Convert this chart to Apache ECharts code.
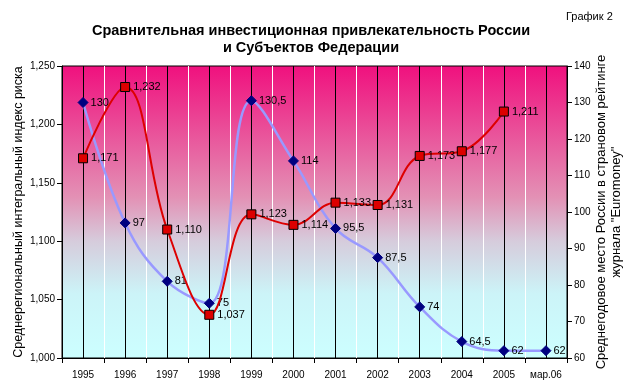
<!DOCTYPE html>
<html><head><meta charset="utf-8">
<script src="https://cdn.jsdelivr.net/npm/echarts@6/dist/echarts.min.js"></script>
<style>html,body{margin:0;padding:0;background:#fff}#c{width:630px;height:389px}</style>
</head><body><div id="c"></div>
<script>
var categories = ['1995','1996','1997','1998','1999','2000','2001','2002','2003','2004','2005','мар.06'];
var riskIndex = [1171, 1232, 1110, 1037, 1123, 1114, 1133, 1131, 1173, 1177, 1211, null];
var euromoneyRank = [130, 97, 81, 75, 130.5, 114, 95.5, 87.5, 74, 64.5, 62, 62];
var leftTicks = {min: 1000, max: 1250, interval: 50};
var rightTicks = {min: 60, max: 140, interval: 10};

var font = 'Arial, "Liberation Sans", sans-serif';
var chart = echarts.init(document.getElementById('c'));
function thousands(v){ var s = String(Math.round(v)); return s.length > 3 ? s.slice(0, s.length-3) + ',' + s.slice(-3) : s; }
function dec(v){ return String(v).replace('.', ','); }
chart.setOption({
  animation: false,
  backgroundColor: '#fff',
  title: [{
    text: 'Сравнительная инвестиционная привлекательность России\nи Субъектов Федерации',
    left: 311, top: 22, textAlign: 'center', padding: 0,
    textStyle: {fontFamily: font, fontSize: 14.5, fontWeight: 'bold', color: '#000', lineHeight: 17}
  }, {
    text: 'График 2', left: 566, top: 11, padding: 0,
    textStyle: {fontFamily: font, fontSize: 11, fontWeight: 'normal', color: '#000'}
  }],
  grid: {left: 62, right: 63, top: 66, bottom: 31, outerBoundsMode: 'none', containLabel: false,
    show: true, borderColor: '#000', borderWidth: 1,
    backgroundColor: {type: 'linear', x: 0, y: 0, x2: 0, y2: 1, colorStops: [
      {offset: 0, color: '#F0107E'},
      {offset: 0.45, color: '#E391B5'},
      {offset: 0.6, color: '#D6CCDC'},
      {offset: 0.78, color: '#CCF4F8'},
      {offset: 1, color: '#CCFFFF'}]}},
  xAxis: [{
    type: 'category', data: categories, boundaryGap: true,
    axisLine: {lineStyle: {color: '#000', width: 1}},
    axisTick: {show: true, length: 5, interval: 0, lineStyle: {color: '#000'}},
    axisLabel: {fontFamily: font, fontSize: 10, color: '#000', margin: 12, interval: 0},
    splitLine: {show: true, interval: 0, lineStyle: {color: '#fff', width: 1}}
  }, {
    type: 'category', data: categories, boundaryGap: true, position: 'bottom',
    axisLine: {show: false}, axisTick: {show: false}, axisLabel: {show: false, interval: 0},
    splitLine: {show: true, interval: 0, alignWithLabel: true, lineStyle: {color: '#000', width: 1}}
  }],
  yAxis: [{
    type: 'value', min: leftTicks.min, max: leftTicks.max, interval: leftTicks.interval,
    name: 'Среднерегиональный интегральный индекс риска', nameLocation: 'middle', nameGap: 37, nameRotate: 90,
    nameMoveOverlap: false,
    nameTextStyle: {fontFamily: font, fontSize: 12.5, color: '#000'},
    axisLine: {show: true, lineStyle: {color: '#000'}},
    axisTick: {show: true, length: 5, lineStyle: {color: '#000'}},
    axisLabel: {fontFamily: font, fontSize: 10, color: '#000', margin: 7, formatter: thousands},
    splitLine: {show: false}
  }, {
    type: 'value', min: rightTicks.min, max: rightTicks.max, interval: rightTicks.interval, position: 'right',
    name: 'Среднегодовое место России в страновом рейтинге\nжурнала "Euromoney"', nameLocation: 'middle', nameGap: 27, nameRotate: 90,
    nameMoveOverlap: false,
    nameTextStyle: {fontFamily: font, fontSize: 13, color: '#000', lineHeight: 15},
    axisLine: {show: true, lineStyle: {color: '#000'}},
    axisTick: {show: true, length: 5, lineStyle: {color: '#000'}},
    axisLabel: {fontFamily: font, fontSize: 10, color: '#000', margin: 7},
    splitLine: {show: false}
  }],
  series: [{
    type: 'line', name: 'euromoney', yAxisIndex: 1, data: euromoneyRank, smooth: 0.4,
    lineStyle: {color: '#9999FF', width: 2.5}, itemStyle: {color: '#000080', borderColor: '#000080'},
    symbol: 'diamond', symbolSize: 10,
    label: {show: true, position: 'right', distance: 2, fontFamily: font, fontSize: 11, color: '#000', formatter: function(p){ return dec(p.value); }},
    z: 3
  }, {
    type: 'line', name: 'risk', yAxisIndex: 0, data: riskIndex, smooth: 0.4,
    lineStyle: {color: '#DD0000', width: 2}, itemStyle: {color: '#DD0000', borderColor: '#000', borderWidth: 1},
    symbol: 'rect', symbolSize: 9,
    label: {show: true, position: 'right', distance: 3, fontFamily: font, fontSize: 11, color: '#000', formatter: function(p){ return thousands(p.value); }},
    z: 4
  }]
});
</script></body></html>
